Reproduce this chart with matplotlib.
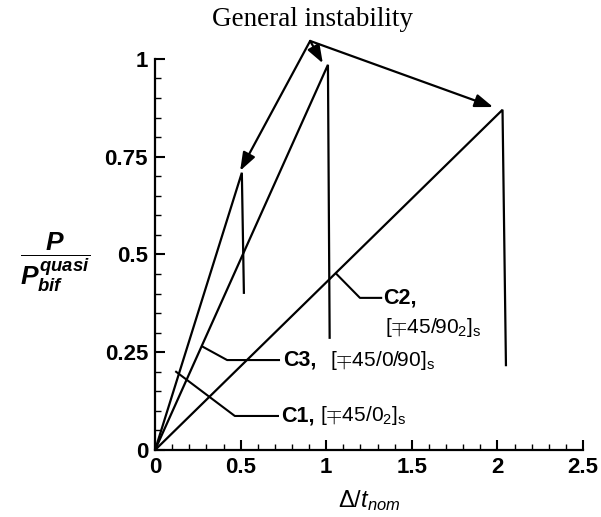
import matplotlib.pyplot as plt
from matplotlib.ticker import MultipleLocator

plt.rcParams['font.family'] = ['Liberation Sans', 'DejaVu Sans']
plt.rcParams['mathtext.fontset'] = 'custom'
plt.rcParams['mathtext.rm'] = 'Liberation Sans'
plt.rcParams['mathtext.it'] = 'Liberation Sans:italic:bold'
plt.rcParams['mathtext.bf'] = 'Liberation Sans:bold'
plt.rcParams['mathtext.sf'] = 'Liberation Sans:italic'

# load-displacement curves (displacement / nominal thickness, P / P_bif)
c1_x = [0, 0.507, 0.519]
c1_y = [0, 0.709, 0.402]
c3_x = [0, 1.01, 1.02]
c3_y = [0, 0.985, 0.287]
c2_x = [0, 2.03, 2.05]
c2_y = [0, 0.87, 0.217]

# "General instability" arrows: common start and the three tips
arrow_start = (0.906, 1.046)
arrow_tips = [(0.497, 0.714), (0.98, 0.989), (1.975, 0.877)]

# label leader lines
c1_lead_x = [0.123, 0.466, 0.718]
c1_lead_y = [0.200, 0.087, 0.087]
c3_lead_x = [0.279, 0.421, 0.724]
c3_lead_y = [0.264, 0.230, 0.230]
c2_lead_x = [1.06, 1.197, 1.321]
c2_lead_y = [0.45, 0.389, 0.389]

fig = plt.figure(figsize=(6.01, 5.17), dpi=100)
ax = fig.add_axes([0.258, 0.1296, 0.712, 0.7564])

for xs, ys in [(c1_x, c1_y), (c3_x, c3_y), (c2_x, c2_y)]:
    ax.plot(xs, ys, color='black', lw=1.6, solid_joinstyle='miter')

for xs, ys in [(c1_lead_x, c1_lead_y), (c3_lead_x, c3_lead_y), (c2_lead_x, c2_lead_y)]:
    ax.plot(xs, ys, color='black', lw=1.5)

for tip in arrow_tips:
    ax.annotate('', xy=tip, xytext=arrow_start, annotation_clip=False,
                arrowprops=dict(arrowstyle='-|>,head_length=0.55,head_width=0.2',
                                mutation_scale=20, lw=1.6,
                                color='black', shrinkA=0, shrinkB=0))

lab = dict(fontsize=15.5, va='center', ha='left', fontweight='bold')
lay = dict(fontsize=15, va='center', ha='left')
ax.text(0.736, 0.087, 'C1,', **lab)
ax.text(0.965, 0.087, r'$[\mp45/0_2]_\mathrm{s}$', **lay)
ax.text(0.746, 0.230, 'C3,', **lab)
ax.text(1.023, 0.230, r'$[\mp45/0/90]_\mathrm{s}$', **lay)
ax.text(1.332, 0.389, 'C2,', **lab)
ax.text(1.343, 0.312, r'$[\mp45/90_2]_\mathrm{s}$', **lay)

ax.set_xlim(0, 2.5)
ax.set_ylim(0, 1)
ax.xaxis.set_minor_locator(MultipleLocator(0.1))
ax.yaxis.set_minor_locator(MultipleLocator(0.05))
ax.set_xticks([0, 0.5, 1, 1.5, 2, 2.5])
ax.set_xticklabels(['0', '0.5', '1', '1.5', '2', '2.5'])
ax.set_yticks([0, 0.25, 0.5, 0.75, 1])
ax.set_yticklabels(['0', '0.25', '0.5', '0.75', '1'])
for side in ['top', 'right']:
    ax.spines[side].set_visible(False)
for side in ['left', 'bottom']:
    ax.spines[side].set_linewidth(1.6)
ax.tick_params(which='major', direction='in', length=7, width=1.5,
               labelsize=16, pad=5)
ax.tick_params(which='minor', direction='in', length=4, width=1)
for t in ax.get_xticklabels() + ax.get_yticklabels():
    t.set_fontweight('bold')

ax.set_xlabel(r'$\Delta/\mathsf{t}_\mathsf{nom}$', fontsize=17, labelpad=7)
fig.text(55 / 601, 1 - 262 / 517, r'$\dfrac{P}{P_{bif}^{quasi}}$',
         fontsize=19, ha='center', va='center')
fig.text(313 / 601, 1 - 20 / 517, 'General instability',
         family='Liberation Serif', fontsize=19.5, ha='center', va='center')

plt.savefig('out.png', dpi=100)
